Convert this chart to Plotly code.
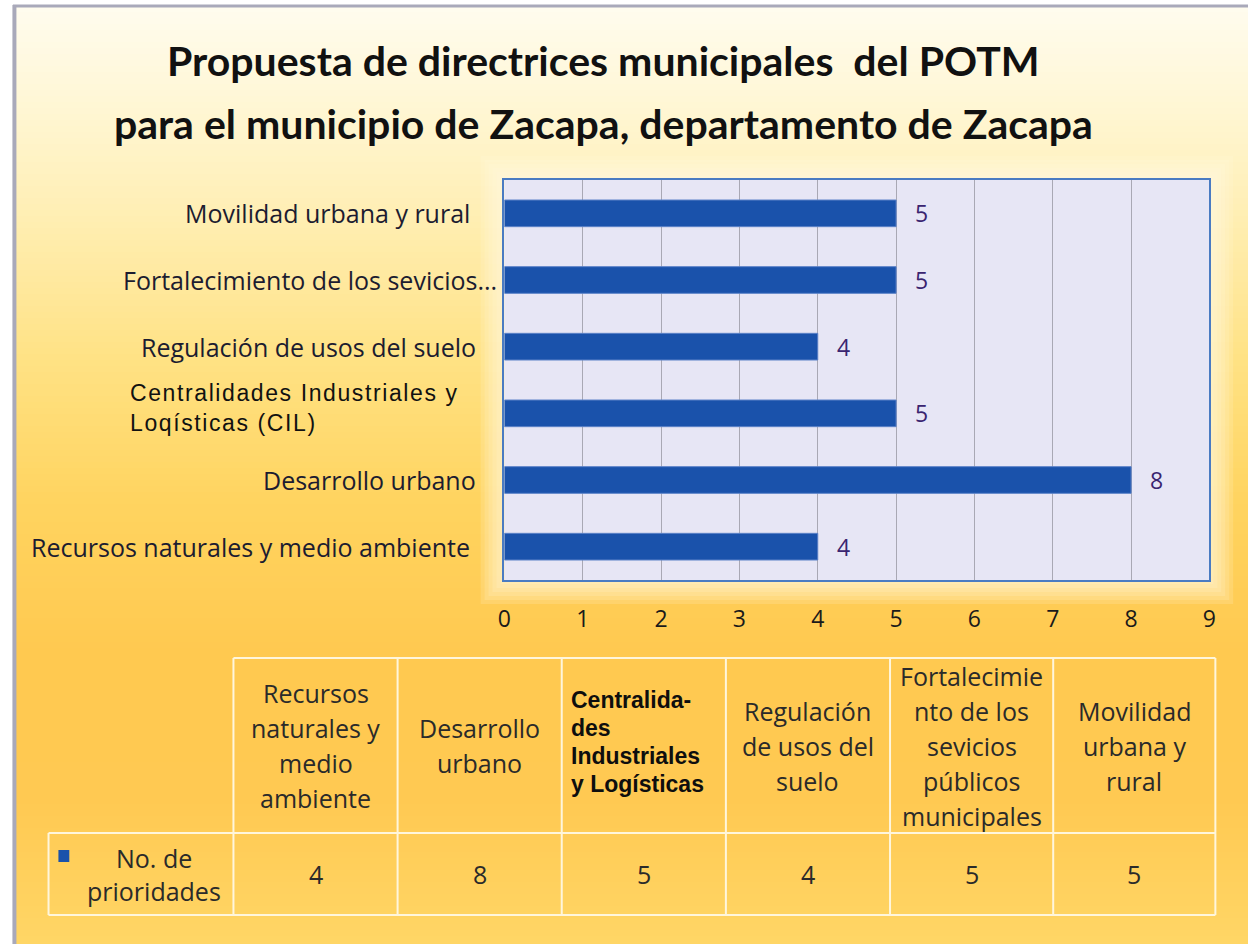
import plotly.graph_objects as go

# ---- data -------------------------------------------------------------
categories = [
    "Recursos naturales y medio ambiente",
    "Desarrollo urbano",
    "Centralidades Industriales y Logísticas (CIL)",
    "Regulación de usos del suelo",
    "Fortalecimiento de los sevicios públicos municipales",
    "Movilidad urbana y rural",
]
axis_labels = [
    "Recursos naturales y medio ambiente",
    "Desarrollo urbano",
    "Centralidades Industriales y<br>Loqísticas (CIL)",
    "Regulación de usos del suelo",
    "Fortalecimiento de los sevicios...",
    "Movilidad urbana y rural",
]
prioridades = [4, 8, 5, 4, 5, 5]
table_headers = [
    ["Recursos", "naturales y", "medio", "ambiente"],
    ["Desarrollo", "urbano"],
    ["Centralida-", "des", "Industriales", "y Logísticas"],
    ["Regulación", "de usos del", "suelo"],
    ["Fortalecimie", "nto de los", "sevicios", "públicos", "municipales"],
    ["Movilidad", "urbana y", "rural"],
]
series_name = ["No. de", "prioridades"]
x_ticks = list(range(0, 10))
title_lines = [
    "Propuesta de directrices municipales  del POTM",
    "para el municipio de Zacapa, departamento de Zacapa",
]

# ---- page geometry (pixels) ----------------------------------------------
W, H = 1255, 944
PLOT_L, PLOT_R, PLOT_T, PLOT_B = 503, 1216, 180, 580
BAR_COLOR = "#1A52AB"
PLOT_BG = "#E7E6F5"
TEXT_DARK = "#1C1C30"
SANS = "'Open Sans', 'Noto Sans', sans-serif"
TITLE_FONT = "Lato, 'Open Sans', sans-serif"
ARIAL_LIKE = "'Liberation Sans', Arial, sans-serif"


def px(x):
    return x / W


def py(y):
    return 1 - y / H


shapes = []
annotations = []

# background: vertical cream-to-amber gradient built from thin bands
stops = [
    (0, (255, 252, 240)),
    (100, (255, 247, 214)),
    (220, (255, 238, 178)),
    (360, (255, 226, 132)),
    (500, (255, 212, 96)),
    (650, (255, 201, 80)),
    (800, (255, 201, 82)),
    (944, (255, 214, 102)),
]


def grad_color(y):
    for (y0, c0), (y1, c1) in zip(stops[:-1], stops[1:]):
        if y0 <= y <= y1:
            t = (y - y0) / (y1 - y0)
            return "rgb(%d,%d,%d)" % tuple(round(a + (b - a) * t) for a, b in zip(c0, c1))
    return "rgb(%d,%d,%d)" % stops[-1][1]


band = 6
for y0 in range(6, H, band):
    y1 = min(y0 + band + 1, H)
    shapes.append(dict(type="rect", xref="paper", yref="paper", layer="below",
                       x0=px(8), x1=1, y0=py(y1), y1=py(y0),
                       fillcolor=grad_color(y0 + band / 2), line=dict(width=0)))

# soft glow around the plotting area
for g in (24, 20, 16, 12, 8, 4):
    shapes.append(dict(type="rect", xref="paper", yref="paper", layer="below",
                       x0=px(PLOT_L - g), x1=px(PLOT_R + g),
                       y0=py(PLOT_B + g), y1=py(PLOT_T - g),
                       fillcolor="rgba(255,250,225,0.17)", line=dict(width=0)))

# plotting area fill (sits above the page bands, below the grid)
shapes.append(dict(type="rect", xref="paper", yref="paper", layer="below",
                   x0=px(PLOT_L), x1=px(PLOT_R), y0=py(PLOT_B), y1=py(PLOT_T),
                   fillcolor=PLOT_BG, line=dict(width=0)))

# frame lines on the top and left edges
shapes.append(dict(type="line", xref="paper", yref="paper", layer="above",
                   x0=px(6), x1=1, y0=py(6), y1=py(6),
                   line=dict(color="#A9A9BA", width=3)))
shapes.append(dict(type="line", xref="paper", yref="paper", layer="above",
                   x0=px(7.5), x1=px(7.5), y0=0, y1=py(5),
                   line=dict(color="#A9A9BA", width=4)))

# ---- title -------------------------------------------------------------
for line, yc in zip(title_lines, (60, 123)):
    annotations.append(dict(xref="paper", yref="paper", x=px(603), y=py(yc),
                            xanchor="center", yanchor="middle", showarrow=False,
                            text="<b>%s</b>" % line,
                            font=dict(family=TITLE_FONT, size=41, color="#111111")))

# ---- category labels on the left -------------------------------------------
label_shift = {
    "Movilidad urbana y rural": -4,
    "Fortalecimiento de los sevicios...": 23,
    "Regulación de usos del suelo": 2,
    "Desarrollo urbano": 2,
    "Recursos naturales y medio ambiente": -4,
}
for cat, lab in zip(categories, axis_labels):
    if "<br>" in lab:
        spaced = "<br>".join('<span style="letter-spacing:1.6px">%s</span>' % part
                             for part in lab.split("<br>"))
        annotations.append(dict(xref="paper", yref="y", x=px(122), y=cat,
                                xanchor="left", yanchor="middle", align="left",
                                showarrow=False, text=spaced, yshift=5,
                                font=dict(family=ARIAL_LIKE, size=23, color="#111111")))
    else:
        annotations.append(dict(xref="paper", yref="y", x=px(474), y=cat,
                                xanchor="right", yanchor="middle", showarrow=False,
                                text=lab, xshift=label_shift.get(lab, 0),
                                font=dict(family=SANS, size=25, color=TEXT_DARK)))

# ---- value labels next to the bars ----------------------------------------
for cat, v in zip(categories, prioridades):
    annotations.append(dict(xref="x", yref="y", x=v, y=cat, xanchor="left",
                            yanchor="middle", showarrow=False, xshift=17,
                            text=str(v),
                            font=dict(family=SANS, size=23, color="#3A2470")))

# ---- data table under the chart ------------------------------------------
col_edges = [42, 229, 395, 561, 727, 893, 1058, 1222]
T_TOP, T_MID, T_BOT = 658, 833, 915
line_style = dict(color="#FFF6DC", width=2)
shapes.append(dict(type="line", xref="paper", yref="paper", x0=px(229), x1=px(1222),
                   y0=py(T_TOP), y1=py(T_TOP), line=line_style))
for yy in (T_MID, T_BOT):
    shapes.append(dict(type="line", xref="paper", yref="paper", x0=px(42), x1=px(1222),
                       y0=py(yy), y1=py(yy), line=line_style))
for i, xx in enumerate(col_edges):
    top = T_MID if i == 0 else T_TOP
    shapes.append(dict(type="line", xref="paper", yref="paper", x0=px(xx), x1=px(xx),
                       y0=py(T_BOT), y1=py(top), line=line_style))

header_mid = (T_TOP + T_MID) / 2
for j, lines in enumerate(table_headers):
    cx = (col_edges[j + 1] + col_edges[j + 2]) / 2
    bold_block = lines[0].endswith("-")
    step = 28 if bold_block else 35
    y_first = header_mid - step * (len(lines) - 1) / 2
    if bold_block:
        y_first -= 4
    for k, ln in enumerate(lines):
        if bold_block:
            annotations.append(dict(xref="paper", yref="paper", x=px(col_edges[j + 1] + 7),
                                    y=py(y_first + k * step), xanchor="left", yanchor="middle",
                                    showarrow=False, text="<b>%s</b>" % ln,
                                    font=dict(family=ARIAL_LIKE, size=23, color="#0E0E0E")))
        else:
            annotations.append(dict(xref="paper", yref="paper", x=px(cx),
                                    y=py(y_first + k * step), xanchor="center", yanchor="middle",
                                    showarrow=False, text=ln,
                                    font=dict(family=SANS, size=25, color="#2A2A2A")))

row_mid = (T_MID + T_BOT) / 2
for j, v in enumerate(prioridades):
    cx = (col_edges[j + 1] + col_edges[j + 2]) / 2
    annotations.append(dict(xref="paper", yref="paper", x=px(cx), y=py(row_mid),
                            xanchor="center", yanchor="middle", showarrow=False,
                            text=str(v),
                            font=dict(family=SANS, size=25, color="#2A2A2A")))

for k, ln in enumerate(series_name):
    annotations.append(dict(xref="paper", yref="paper", x=px(149), y=py(858 + 33 * k),
                            xanchor="center", yanchor="middle", showarrow=False, text=ln,
                            font=dict(family=SANS, size=25, color="#2A2A2A")))
shapes.append(dict(type="rect", xref="paper", yref="paper", layer="above",
                   x0=px(52), x1=px(63), y0=py(862), y1=py(850),
                   fillcolor=BAR_COLOR, line=dict(width=0)))

# ---- figure -------------------------------------------------------------
fig = go.Figure(go.Bar(
    x=prioridades, y=categories, orientation="h", width=0.4,
    marker=dict(color=BAR_COLOR, line=dict(color="#5C82C8", width=1)),
    hoverinfo="x+y", showlegend=False,
))

fig.update_layout(
    width=W, height=H,
    margin=dict(l=0, r=0, t=0, b=0),
    paper_bgcolor="white",
    plot_bgcolor=PLOT_BG,
    shapes=shapes,
    annotations=annotations,
    xaxis=dict(domain=[px(PLOT_L), px(PLOT_R)], range=[0, 9], tickvals=x_ticks,
               showgrid=True, gridcolor="#A9A8B4", gridwidth=1, zeroline=False,
               showline=True, mirror=True, linecolor="#4A7BC2", linewidth=2,
               ticks="outside", ticklen=17, tickcolor="rgba(0,0,0,0)",
               tickfont=dict(family=SANS, size=23, color="#1A1A1A"),
               fixedrange=True),
    yaxis=dict(domain=[py(PLOT_B), py(PLOT_T)], categoryorder="array",
               categoryarray=categories, showticklabels=False, showgrid=False,
               zeroline=False, showline=True, mirror=True, linecolor="#4A7BC2",
               linewidth=2, fixedrange=True),
    bargap=0.6,
)

fig.write_html("out.html")
